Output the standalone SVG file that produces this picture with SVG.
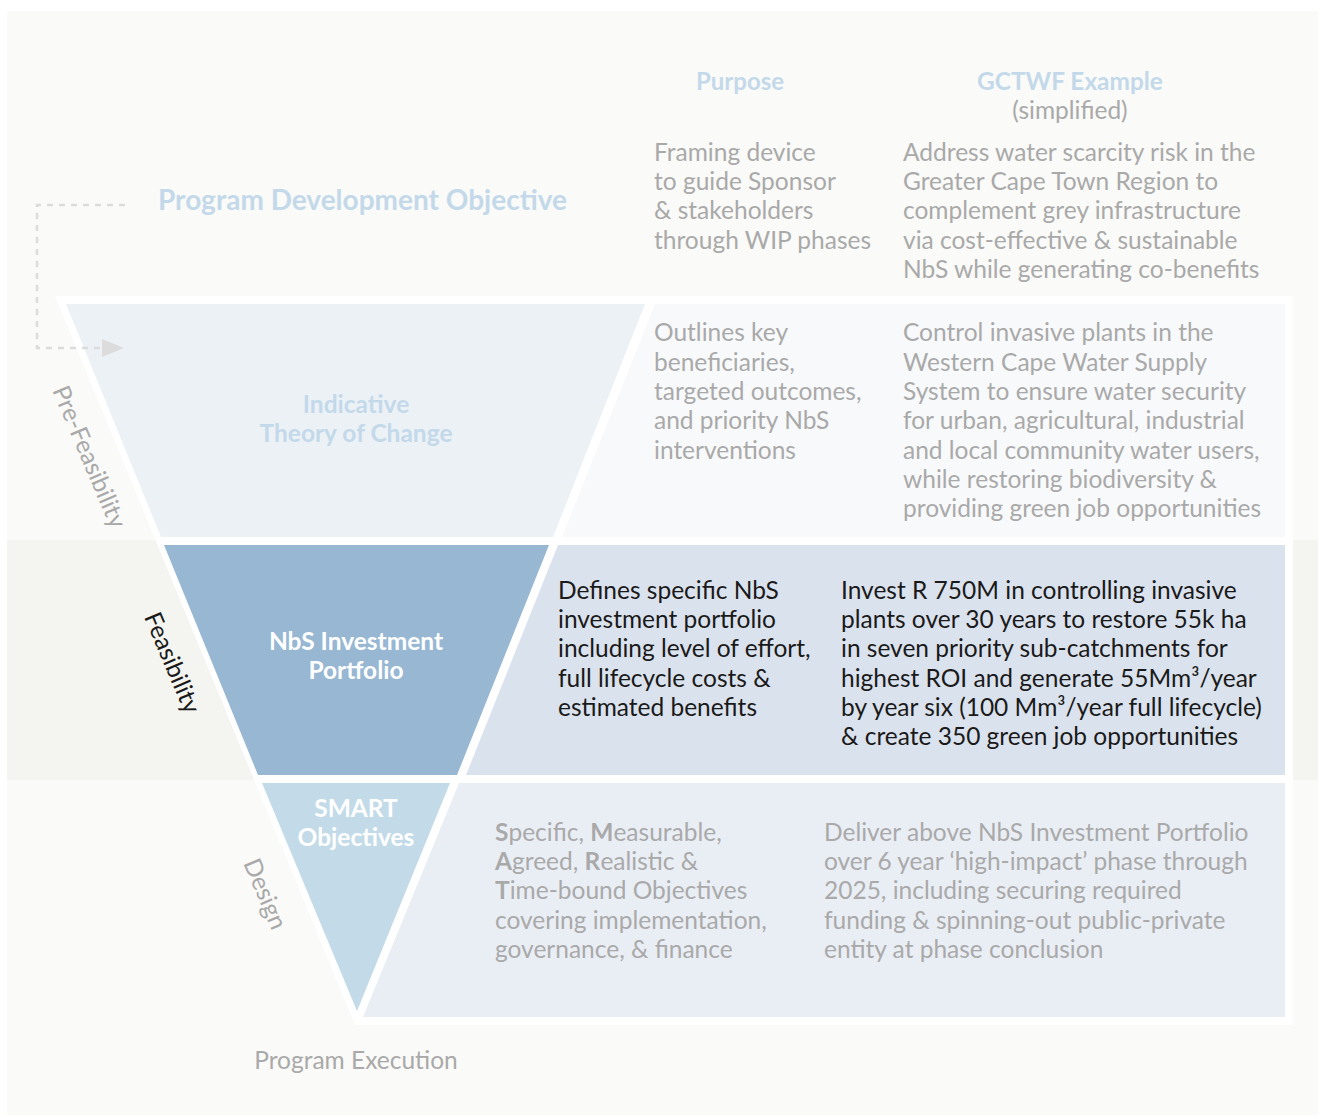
<svg xmlns="http://www.w3.org/2000/svg" width="1323" height="1119" viewBox="0 0 1323 1119">
<style>
.t{font-family:Lato,"Open Sans","Liberation Sans",sans-serif;font-size:24.5px;fill:#a9a9a9}
.dk{fill:#1a1a1a}
.h{font-family:Lato,"Open Sans","Liberation Sans",sans-serif;font-weight:bold;fill:#c3d9ea}
.w{font-family:Lato,"Open Sans","Liberation Sans",sans-serif;font-weight:bold;font-size:24.5px;fill:#ffffff;text-anchor:middle}
.b{font-weight:bold}
.conn{fill:none;stroke:#dcdcdc;stroke-width:2.5;stroke-dasharray:6 6}
.arrow{fill:#dcdcdc}
</style>
<rect width="1323" height="1119" fill="#ffffff"/>
<rect x="7" y="11" width="1311" height="1104" fill="#fafaf8"/>
<rect x="7" y="540" width="1311" height="240" fill="#f4f5f0"/>
<!-- white frame -->
<polygon points="55,296 1293,296 1293,1025 356,1025 353,1020" fill="#ffffff"/>
<g id="row-prefeasibility">
<polygon points="66,304 645,304 553,537 161,537" fill="#ecf1f6"/>
<polygon points="655,304 1285,304 1285,537 562,537" fill="#f8f9fb"/>
</g>
<g id="row-feasibility">
<polygon points="164,545 549,545 457,775 258,775" fill="#97b7d3"/>
<polygon points="558,545 1285,545 1285,775 466,775" fill="#dae2ed"/>
</g>
<g id="row-design">
<polygon points="262,783 450,783 357,1011" fill="#c3dbe8"/>
<polygon points="459,783 1285,783 1285,1017 363,1017" fill="#e9eef5"/>
</g>
<g id="connectors">
<path class="conn" d="M125,205 H37 V348 H102"/>
<polygon class="arrow" points="102,339 124,348 102,357"/>
</g>
<g id="headers">
<text class="h" x="740" y="90" font-size="24" text-anchor="middle">Purpose</text>
<text class="h" x="1070" y="90" font-size="24.4" text-anchor="middle">GCTWF Example</text>
<text class="t" x="1070" y="119" text-anchor="middle">(simplified)</text>
</g>
<g id="pdo">
<text class="h" x="158" y="210" font-size="28">Program Development Objective</text>
<text class="t"><tspan x="654" y="161">Framing device</tspan><tspan x="654" y="190">to guide Sponsor</tspan><tspan x="654" y="219">&amp; stakeholders</tspan><tspan x="654" y="249">through WIP phases</tspan></text>
<text class="t"><tspan x="903" y="161">Address water scarcity risk in the</tspan><tspan x="903" y="190">Greater Cape Town Region to</tspan><tspan x="903" y="219">complement grey infrastructure</tspan><tspan x="903" y="249">via cost-effective &amp; sustainable</tspan><tspan x="903" y="278">NbS while generating co-benefits</tspan></text>
</g>
<g id="toc">
<text class="h" font-size="24.5" text-anchor="middle"><tspan x="356" y="413">Indicative</tspan><tspan x="356" y="442">Theory of Change</tspan></text>
<text class="t"><tspan x="654" y="341">Outlines key</tspan><tspan x="654" y="371">beneficiaries,</tspan><tspan x="654" y="400">targeted outcomes,</tspan><tspan x="654" y="429">and priority NbS</tspan><tspan x="654" y="459">interventions</tspan></text>
<text class="t"><tspan x="903" y="341">Control invasive plants in the</tspan><tspan x="903" y="371">Western Cape Water Supply</tspan><tspan x="903" y="400">System to ensure water security</tspan><tspan x="903" y="429">for urban, agricultural, industrial</tspan><tspan x="903" y="459">and local community water users,</tspan><tspan x="903" y="488">while restoring biodiversity &amp;</tspan><tspan x="903" y="517">providing green job opportunities</tspan></text>
<text class="t" transform="translate(89,457) rotate(67)" text-anchor="middle" dy="8">Pre-Feasibility</text>
</g>
<g id="portfolio">
<text class="w"><tspan x="356" y="650">NbS Investment</tspan><tspan x="356" y="679">Portfolio</tspan></text>
<text class="t dk"><tspan x="558" y="599">Defines specific NbS</tspan><tspan x="558" y="628">investment portfolio</tspan><tspan x="558" y="657">including level of effort,</tspan><tspan x="558" y="687">full lifecycle costs &amp;</tspan><tspan x="558" y="716">estimated benefits</tspan></text>
<text class="t dk"><tspan x="841" y="599">Invest R 750M in controlling invasive</tspan><tspan x="841" y="628">plants over 30 years to restore 55k ha</tspan><tspan x="841" y="657">in seven priority sub-catchments for</tspan><tspan x="841" y="687">highest ROI and generate 55Mm³/year</tspan><tspan x="841" y="716">by year six (100 Mm³/year full lifecycle)</tspan><tspan x="841" y="745">&amp; create 350 green job opportunities</tspan></text>
<text class="t dk" transform="translate(172,663) rotate(67)" text-anchor="middle" dy="8">Feasibility</text>
</g>
<g id="smart">
<text class="w"><tspan x="356" y="817">SMART</tspan><tspan x="356" y="846">Objectives</tspan></text>
<text class="t"><tspan x="495" y="841"><tspan class="b">S</tspan>pecific, <tspan class="b">M</tspan>easurable,</tspan><tspan x="495" y="870"><tspan class="b">A</tspan>greed, <tspan class="b">R</tspan>ealistic &amp;</tspan><tspan x="495" y="899"><tspan class="b">T</tspan>ime-bound Objectives</tspan><tspan x="495" y="929">covering implementation,</tspan><tspan x="495" y="958">governance, &amp; finance</tspan></text>
<text class="t"><tspan x="824" y="841">Deliver above NbS Investment Portfolio</tspan><tspan x="824" y="870">over 6 year ‘high-impact’ phase through</tspan><tspan x="824" y="899">2025, including securing required</tspan><tspan x="824" y="929">funding &amp; spinning-out public-private</tspan><tspan x="824" y="958">entity at phase conclusion</tspan></text>
<text class="t" transform="translate(265,894) rotate(67)" text-anchor="middle" dy="8">Design</text>
</g>
<g id="execution">
<text class="t" x="356" y="1069" text-anchor="middle">Program Execution</text>
</g>
</svg>
